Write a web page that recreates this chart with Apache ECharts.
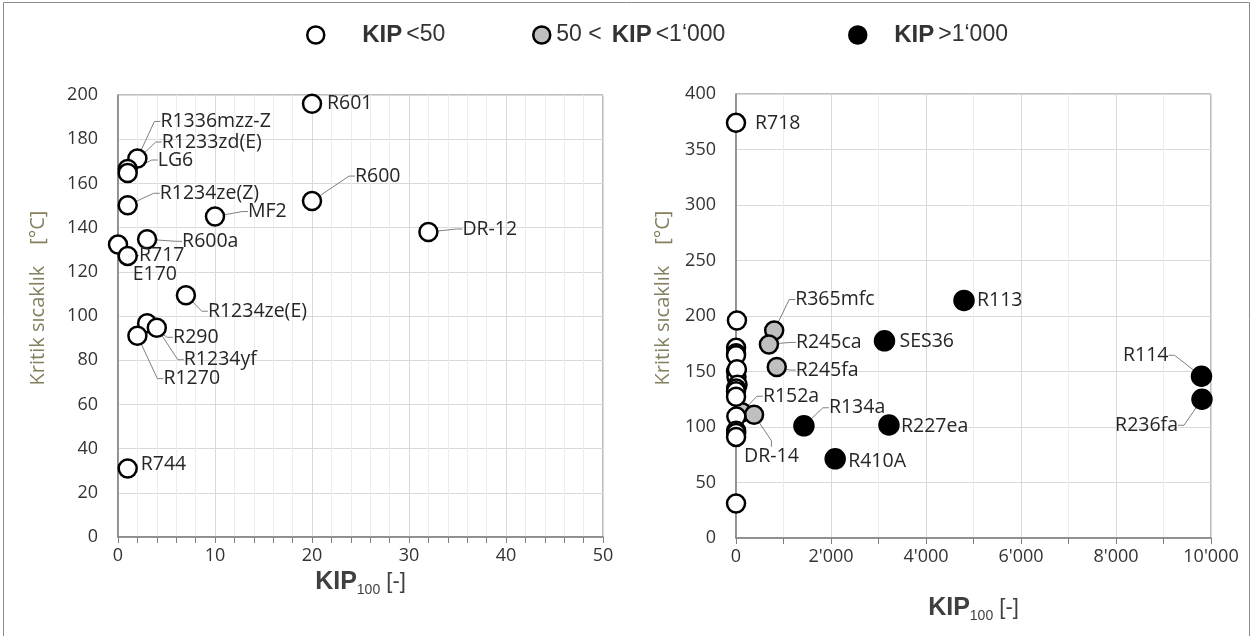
<!DOCTYPE html>
<html>
<head>
<meta charset="utf-8">
<script src="https://cdn.jsdelivr.net/npm/echarts@6/dist/echarts.min.js"></script>
<style>
html, body { margin: 0; padding: 0; background: #fff; }
#chart { width: 1259px; height: 636px; }
</style>
</head>
<body>
<div id="chart"></div>
<script>
// legend / series names
var seriesNames = ['KIP <50', '50 < KIP <1\u2018000', 'KIP >1\u2018000'];

// KIP < 50
var lowNames = ['R601', 'R1336mzz-Z', 'R1233zd(E)', 'LG6', 'R1234ze(Z)', 'MF2', 'R600', 'DR-12', 'R600a', 'R717', 'E170', 'R1234ze(E)', 'R290', 'R1234yf', 'R1270', 'R744', 'R718'];
var lowKip = [20, 2, 1, 1, 1, 10, 20, 32, 3, 0, 1, 7, 3, 4, 2, 1, 0];
var lowTc = [196, 171.3, 166.5, 164.7, 150.1, 145, 152, 138, 134.7, 132.3, 127.2, 109.4, 96.7, 94.7, 91.1, 31, 374];

// 50 < KIP < 1'000
var midNames = ['R365mfc', 'R245ca', 'R245fa', 'R152a', 'DR-14'];
var midKip = [804, 693, 858, 124, 380];
var midTc = [186.9, 174.4, 154, 113.3, 111];

// KIP > 1'000
var highNames = ['R134a', 'R410A', 'R227ea', 'SES36', 'R113', 'R114', 'R236fa'];
var highKip = [1430, 2088, 3220, 3126, 4800, 9800, 9810];
var highTc = [101.1, 71.3, 101.8, 177.6, 214, 145.7, 125];

// label anchor offsets from point centre [dx, dy, leader line, side]
var leftPlace = {
    'R601': [15, 0, 0],
    'R1336mzz-Z': [23, -37, 1],
    'R1233zd(E)': [34, -27, 1],
    'LG6': [30, -13, 1],
    'R1234ze(Z)': [32, -12, 1],
    'MF2': [33, -5, 1],
    'R600': [43, -25, 1],
    'DR-12': [34, -3, 1],
    'R600a': [35, 2, 1],
    'R717': [21, 11, 1],
    'E170': [5, 19, 0],
    'R1234ze(E)': [22, 16, 1],
    'R290': [26, 14, 1],
    'R1234yf': [27, 32, 1],
    'R1270': [26, 43, 1],
    'R744': [13, -4, 0]
};
var rightPlace = {
    'R718': [19, 1, 0],
    'R365mfc': [21, -31, 1],
    'R245ca': [27, -2, 1],
    'R245fa': [19, 3, 1],
    'R152a': [21, -16, 1],
    'DR-14': [-10, 42, 1],
    'R134a': [25, -18, 1],
    'R227ea': [12, 1, 0],
    'R410A': [13, 3, 0],
    'SES36': [15, 1, 0],
    'R113': [13, 0, 0],
    'R114': [-33, -21, 1, 'r'],
    'R236fa': [-24, 26, 1, 'r']
};

var textColor = '#333333';
var nameColor = '#857f5e';
var axisColor = '#7f7f7f';

function makeData(names, xs, ys, place) {
    return names.map(function (n, i) {
        var pl = place[n];
        return {
            name: n,
            value: [xs[i], ys[i]],
            label: { show: !!pl },
            labelLine: { show: !!(pl && pl[2]) }
        };
    });
}

function placer(names, place) {
    return function (p) {
        var pl = place[names[p.dataIndex]];
        if (!pl) return {};
        var cx = p.rect.x + p.rect.width / 2;
        var cy = p.rect.y + p.rect.height / 2;
        return {
            x: cx + pl[0],
            y: cy + pl[1],
            align: pl[3] === 'r' ? 'right' : 'left',
            verticalAlign: 'middle'
        };
    };
}

function makeSeries(name, gi, names, xs, ys, place, fill, size) {
    return {
        name: name,
        type: 'scatter',
        xAxisIndex: gi,
        yAxisIndex: gi,
        symbol: 'circle',
        symbolSize: size,
        itemStyle: { color: fill, borderColor: '#000', borderWidth: 2.5, opacity: 1 },
        label: {
            position: 'right',
            formatter: '{b}',
            fontFamily: 'Open Sans',
            fontSize: 19.5,
            color: '#262626'
        },
        labelLine: { length2: 6, lineStyle: { color: '#808080', width: 1 } },
        labelLayout: placer(names, place),
        emphasis: { disabled: true },
        data: makeData(names, xs, ys, place)
    };
}

function kipName() {
    return '{b|KIP}{s|100}{n| [-]}';
}
var kipRich = {
    b: { fontFamily: 'Liberation Sans', fontSize: 25, fontWeight: 'bold', color: '#404040', lineHeight: 30 },
    s: { fontFamily: 'Liberation Sans', fontSize: 14, color: '#404040', verticalAlign: 'bottom', lineHeight: 26 },
    n: { fontFamily: 'Liberation Sans', fontSize: 22, color: '#404040', lineHeight: 30 }
};

function xAxisBase(gi, max, interval, minor, gap, fmt) {
    return {
        gridIndex: gi,
        type: 'value',
        min: 0,
        max: max,
        interval: interval,
        axisLine: { show: true, onZero: false, lineStyle: { color: axisColor, width: 1.5 } },
        axisTick: { show: true, length: 6, lineStyle: { color: axisColor } },
        minorTick: { show: true, splitNumber: minor, length: 6, lineStyle: { color: axisColor } },
        splitLine: { show: true, lineStyle: { color: '#d9d9d9' } },
        minorSplitLine: { show: true, lineStyle: { color: '#ededed' } },
        axisLabel: { fontFamily: 'Open Sans', fontSize: 18, color: textColor, margin: 10, formatter: fmt },
        name: kipName(),
        nameLocation: 'middle',
        nameGap: gap,
        nameTextStyle: { rich: kipRich }
    };
}

function yAxisBase(gi, max, interval, gap) {
    return {
        gridIndex: gi,
        type: 'value',
        min: 0,
        max: max,
        interval: interval,
        axisLine: { show: true, lineStyle: { color: axisColor, width: 1.5 } },
        axisTick: { show: false },
        splitLine: { show: true, lineStyle: { color: '#d9d9d9' } },
        axisLabel: { fontFamily: 'Open Sans', fontSize: 18, color: textColor, margin: 20 },
        name: 'Kritik s\u0131cakl\u0131k    [\u00b0C]',
        nameLocation: 'middle',
        nameGap: gap,
        nameTextStyle: { fontFamily: 'Open Sans', fontSize: 20, color: nameColor, padding: [0, 0, 0, 36] }
    };
}

function thousands(v) {
    return String(v).replace(/\B(?=(\d{3})+(?!\d))/g, "'");
}

var legendRich = {
    b: { fontFamily: 'Liberation Sans', fontSize: 24, fontWeight: 'bold', color: '#333' },
    n: { fontFamily: 'Liberation Sans', fontSize: 23, color: '#333' },
    g1: { width: 33 },
    g2: { width: 1 },
    g3: { width: 23 },
    sp: { width: 10 },
    sp2: { width: 4 }
};
var legendText = {};
legendText[seriesNames[0]] = '{g1|}{b|KIP}{sp2|}{n|<50}';
legendText[seriesNames[1]] = '{g2|}{n|50 <}{sp|}{b|KIP}{sp2|}{n|<1\u2018000}';
legendText[seriesNames[2]] = '{g3|}{b|KIP}{sp2|}{n|>1\u2018000}';

function legendFor(i, left, fill) {
    return {
        data: [{ name: seriesNames[i], itemStyle: { color: fill, borderColor: '#000', borderWidth: 2.5 } }],
        left: left,
        top: 18,
        icon: 'circle',
        itemWidth: 17,
        itemHeight: 17,
        selectedMode: false,
        formatter: function (n) { return legendText[n]; },
        textStyle: { rich: legendRich }
    };
}

var option = {
    animation: false,
    backgroundColor: '#fff',
    legend: [
        legendFor(0, 301, '#fff'),
        legendFor(1, 527, '#bfbfbf'),
        legendFor(2, 843, '#000')
    ],
    graphic: [{
        type: 'rect',
        silent: true,
        shape: { x: 3.5, y: 2.5, width: 1246, height: 640 },
        style: { fill: null, stroke: '#8c8c8c', lineWidth: 1 }
    }],
    grid: [
        { left: 118, top: 95, width: 485, height: 442, show: true, borderColor: axisColor, borderWidth: 1 },
        { left: 736, top: 94, width: 475, height: 444, show: true, borderColor: axisColor, borderWidth: 1 }
    ],
    xAxis: [
        xAxisBase(0, 50, 10, 5, 30),
        xAxisBase(1, 10000, 2000, 2, 55, thousands)
    ],
    yAxis: [
        yAxisBase(0, 200, 20, 70),
        yAxisBase(1, 400, 50, 63)
    ],
    series: [
        makeSeries(seriesNames[0], 0, lowNames, lowKip, lowTc, leftPlace, '#fff', 18),
        makeSeries(seriesNames[1], 1, midNames, midKip, midTc, rightPlace, '#bfbfbf', 18),
        makeSeries(seriesNames[2], 1, highNames, highKip, highTc, rightPlace, '#000', 19),
        makeSeries(seriesNames[0], 1, lowNames, lowKip, lowTc, rightPlace, '#fff', 18)
    ]
};

var myChart = echarts.init(document.getElementById('chart'));
myChart.setOption(option);
</script>
</body>
</html>
